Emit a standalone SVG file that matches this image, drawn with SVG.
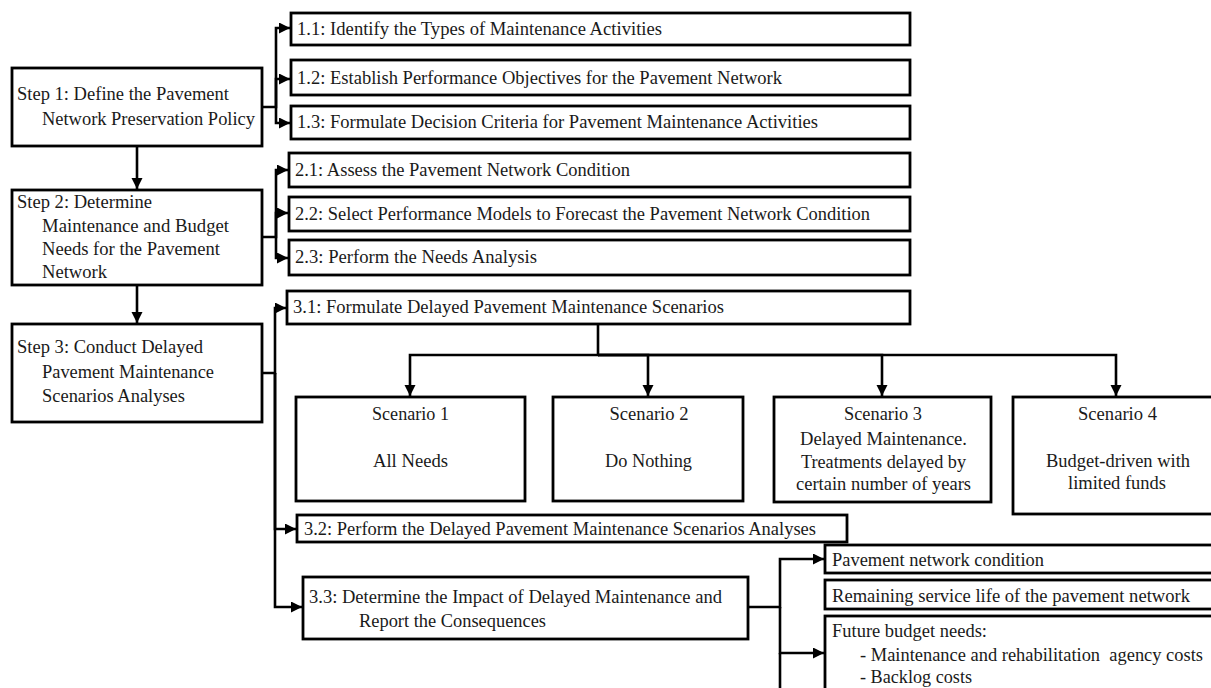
<svg xmlns="http://www.w3.org/2000/svg" width="1211" height="688" viewBox="0 0 1211 688">
<defs>
<marker id="ah" markerUnits="userSpaceOnUse" markerWidth="12" markerHeight="12" refX="11" refY="5.5" orient="auto">
<path d="M0,0 L11,5.5 L0,11 z" fill="#000"/>
</marker>
<style>
rect{fill:#fff;stroke:#000;stroke-width:2.8}
text{font-family:"Liberation Serif","Times New Roman",serif;font-size:18px;fill:#1a1a1a}
.m{text-anchor:middle}
#connectors path{fill:none;stroke:#000;stroke-width:2.6}
.a{marker-end:url(#ah)}
</style>
</defs>
<rect x="-5" y="-5" width="1221" height="698" style="fill:#fff;stroke:none"/>
<g id="connectors">
<path class="a" d="M262,107 H276 V28 H290"/>
<path class="a" d="M276,107 V79 H290"/>
<path class="a" d="M276,107 V123 H290"/>
<path class="a" d="M137,146 V189"/>
<path class="a" d="M262,237 H276 V170 H288"/>
<path class="a" d="M276,237 V213 H288"/>
<path class="a" d="M276,237 V258 H288"/>
<path class="a" d="M137,285 V323"/>
<path class="a" d="M262,373 H275 V308 H286"/>
<path class="a" d="M275,373 V529 H296"/>
<path class="a" d="M275,373 V607 H302"/>
<path class="a" d="M598,324 V355 H410 V396"/>
<path class="a" d="M598,355 H648 V396"/>
<path class="a" d="M598,355 H882 V396"/>
<path class="a" d="M598,355 H1116 V396"/>
<path class="a" d="M748,607 H780 V559 H824"/>
<path class="a" d="M780,607 V653 H824"/>
<path d="M780,653 V690"/>
</g>
<g id="step1"><rect x="12" y="68" width="250" height="78"/>
<text x="17" y="100" textLength="212" lengthAdjust="spacingAndGlyphs">Step 1: Define the Pavement</text>
<text x="42" y="125" textLength="213" lengthAdjust="spacingAndGlyphs">Network Preservation Policy</text></g>
<g id="step2"><rect x="12" y="190" width="250" height="95"/>
<text x="17" y="208" textLength="135" lengthAdjust="spacingAndGlyphs">Step 2: Determine</text>
<text x="42" y="232" textLength="187" lengthAdjust="spacingAndGlyphs">Maintenance and Budget</text>
<text x="42" y="255" textLength="178" lengthAdjust="spacingAndGlyphs">Needs for the Pavement</text>
<text x="42" y="278" textLength="65" lengthAdjust="spacingAndGlyphs">Network</text></g>
<g id="step3"><rect x="12" y="324" width="250" height="98"/>
<text x="17" y="353" textLength="186" lengthAdjust="spacingAndGlyphs">Step 3: Conduct Delayed</text>
<text x="42" y="378" textLength="172" lengthAdjust="spacingAndGlyphs">Pavement Maintenance</text>
<text x="42" y="402" textLength="143" lengthAdjust="spacingAndGlyphs">Scenarios Analyses</text></g>
<g id="n11"><rect x="291" y="13" width="619" height="32"/>
<text x="297" y="35" textLength="365" lengthAdjust="spacingAndGlyphs">1.1: Identify the Types of Maintenance Activities</text></g>
<g id="n12"><rect x="291" y="60" width="619" height="35"/>
<text x="297" y="84" textLength="485" lengthAdjust="spacingAndGlyphs">1.2: Establish Performance Objectives for the Pavement Network</text></g>
<g id="n13"><rect x="291" y="106" width="619" height="33"/>
<text x="297" y="128" textLength="521" lengthAdjust="spacingAndGlyphs">1.3: Formulate Decision Criteria for Pavement Maintenance Activities</text></g>
<g id="n21"><rect x="289" y="153" width="621" height="34"/>
<text x="295" y="176" textLength="335" lengthAdjust="spacingAndGlyphs">2.1: Assess the Pavement Network Condition</text></g>
<g id="n22"><rect x="289" y="197" width="621" height="34"/>
<text x="295" y="220" textLength="575" lengthAdjust="spacingAndGlyphs">2.2: Select Performance Models to Forecast the Pavement Network Condition</text></g>
<g id="n23"><rect x="289" y="240" width="621" height="35"/>
<text x="295" y="263" textLength="242" lengthAdjust="spacingAndGlyphs">2.3: Perform the Needs Analysis</text></g>
<g id="n31"><rect x="287" y="291" width="623" height="33"/>
<text x="293" y="313" textLength="431" lengthAdjust="spacingAndGlyphs">3.1: Formulate Delayed Pavement Maintenance Scenarios</text></g>
<g id="s1"><rect x="296" y="397" width="229" height="104"/>
<text class="m" x="410.5" y="420" textLength="77" lengthAdjust="spacingAndGlyphs">Scenario 1</text>
<text class="m" x="410.5" y="467" textLength="75" lengthAdjust="spacingAndGlyphs">All Needs</text></g>
<g id="s2"><rect x="553" y="397" width="190" height="104"/>
<text class="m" x="649" y="420" textLength="79" lengthAdjust="spacingAndGlyphs">Scenario 2</text>
<text class="m" x="648.5" y="467" textLength="87" lengthAdjust="spacingAndGlyphs">Do Nothing</text></g>
<g id="s3"><rect x="774" y="397" width="217" height="105"/>
<text class="m" x="883" y="420" textLength="78" lengthAdjust="spacingAndGlyphs">Scenario 3</text>
<text class="m" x="883.5" y="445" textLength="167" lengthAdjust="spacingAndGlyphs">Delayed Maintenance.</text>
<text class="m" x="883.5" y="468" textLength="165" lengthAdjust="spacingAndGlyphs">Treatments delayed by</text>
<text class="m" x="883.5" y="490" textLength="175" lengthAdjust="spacingAndGlyphs">certain number of years</text></g>
<g id="s4"><rect x="1013" y="397" width="206" height="117"/>
<text class="m" x="1117.5" y="420" textLength="79" lengthAdjust="spacingAndGlyphs">Scenario 4</text>
<text class="m" x="1118" y="467" textLength="144" lengthAdjust="spacingAndGlyphs">Budget-driven with</text>
<text class="m" x="1117" y="489" textLength="98" lengthAdjust="spacingAndGlyphs">limited funds</text></g>
<g id="n32"><rect x="297" y="515" width="550" height="27"/>
<text x="304" y="535" textLength="512" lengthAdjust="spacingAndGlyphs">3.2: Perform the Delayed Pavement Maintenance Scenarios Analyses</text></g>
<g id="n33"><rect x="303" y="577" width="445" height="62"/>
<text x="309" y="603" textLength="413" lengthAdjust="spacingAndGlyphs">3.3: Determine the Impact of Delayed Maintenance and</text>
<text x="359" y="627" textLength="187" lengthAdjust="spacingAndGlyphs">Report the Consequences</text></g>
<g id="o1"><rect x="825" y="545" width="392" height="28"/>
<text x="832" y="566" textLength="212" lengthAdjust="spacingAndGlyphs">Pavement network condition</text></g>
<g id="o2"><rect x="825" y="580" width="392" height="29"/>
<text x="832" y="602" textLength="358" lengthAdjust="spacingAndGlyphs">Remaining service life of the pavement network</text></g>
<g id="o3"><rect x="825" y="616" width="392" height="80"/>
<text x="832" y="637" textLength="155" lengthAdjust="spacingAndGlyphs">Future budget needs:</text>
<text x="860" y="661" textLength="343" lengthAdjust="spacingAndGlyphs" xml:space="preserve">- Maintenance and rehabilitation  agency costs</text>
<text x="860" y="683" textLength="112" lengthAdjust="spacingAndGlyphs">- Backlog costs</text></g>
</svg>
